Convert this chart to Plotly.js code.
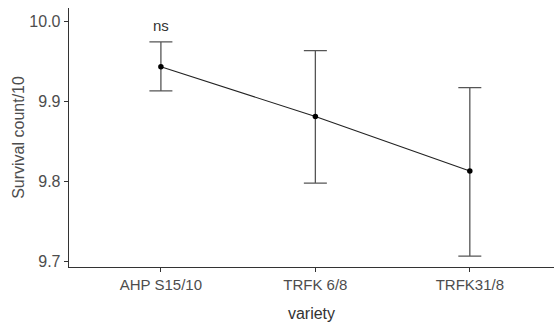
<!DOCTYPE html>
<html>
<head>
<meta charset="utf-8">
<script src="https://cdn.plot.ly/plotly-3.0.1.min.js"></script>
<style>html,body{margin:0;padding:0;background:#fff;}#chart{width:554px;height:322px;}</style>
</head>
<body>
<div id="chart"></div>
<script>
const categories = ["AHP S15/10", "TRFK 6/8", "TRFK31/8"];
const means = [9.943, 9.881, 9.813];
const upper = [9.974, 9.963, 9.917];
const lower = [9.913, 9.798, 9.707];
const yTicks = [9.7, 9.8, 9.9, 10.0];
const yTickLabels = ["9.7", "9.8", "9.9", "10.0"];
const annotationText = "ns";

const xIdx = categories.map((c, i) => i);
const errPlus = means.map((m, i) => upper[i] - m);
const errMinus = means.map((m, i) => m - lower[i]);

const font = "Liberation Sans Narrow, Arial Narrow, Liberation Sans, Arial, sans-serif";

const traces = [{
  x: xIdx,
  y: means,
  type: "scatter",
  mode: "lines+markers",
  line: {color: "#222", width: 1.1},
  marker: {color: "#000", size: 5.5},
  error_y: {type: "data", symmetric: false, array: errPlus, arrayminus: errMinus,
            color: "#555", thickness: 1.3, width: 11.5},
  showlegend: false,
  hoverinfo: "skip"
}];

const layout = {
  width: 554, height: 322,
  margin: {l: 69, r: 0, t: 8, b: 55},
  paper_bgcolor: "#fff", plot_bgcolor: "#fff",
  showlegend: false,
  xaxis: {
    range: [-0.595, 2.545],
    tickvals: xIdx, ticktext: categories,
    showgrid: false, zeroline: false,
    showline: true, linecolor: "#333", linewidth: 1.3,
    ticks: "outside", ticklen: 4, tickcolor: "#333", tickwidth: 1,
    tickfont: {family: font, size: 15, color: "#4d4d4d"},
    title: {text: "variety", font: {family: font, size: 16, color: "#333"}, standoff: 18}
  },
  yaxis: {
    range: [9.6934, 10.0162],
    tickvals: yTicks, ticktext: yTickLabels,
    showgrid: false, zeroline: false,
    showline: true, linecolor: "#333", linewidth: 1.3,
    ticks: "outside", ticklen: 4, tickcolor: "#333", tickwidth: 1,
    tickfont: {family: font, size: 16, color: "#4d4d4d"},
    title: {text: "Survival count/10", font: {family: "Liberation Sans, Arial, sans-serif", size: 16, color: "#4d4d4d"}, standoff: 0}
  },
  annotations: [{
    x: 0, y: 9.995, xref: "x", yref: "y", text: annotationText, showarrow: false,
    font: {family: font, size: 15, color: "#333"}
  }]
};

Plotly.newPlot("chart", traces, layout, {staticPlot: true, displayModeBar: false});
</script>
</body>
</html>
